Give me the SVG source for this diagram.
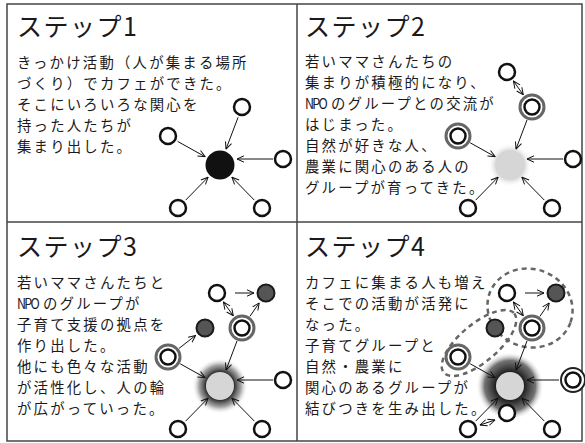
<svg xmlns="http://www.w3.org/2000/svg" width="585" height="443" viewBox="0 0 585 443">
<style>
.title{font-family:"Noto Sans CJK JP","Noto Sans",sans-serif;font-size:25px;fill:#1a1a1a;letter-spacing:1.5px}
.body{font-family:"Noto Sans CJK JP","Noto Sans",sans-serif;font-size:14.4px;letter-spacing:2.2px;fill:#1a1a1a}
.npo{letter-spacing:-2px}
.frame{fill:none;stroke:#444;stroke-width:1.5}
.w{fill:#fff;stroke:#111;stroke-width:2.5}
.dk{fill:#555;stroke:#1a1a1a;stroke-width:2}
.ring{fill:#fff;stroke:#666;stroke-width:3}
.ringb{fill:#fff;stroke:#222;stroke-width:2}
.ln{stroke:#111;stroke-width:1;fill:none;marker-end:url(#ah)}
.dbl{marker-start:url(#ah)}
.dash{fill:none;stroke:#666;stroke-width:2.5;stroke-dasharray:5 4}
</style>
<defs>
<marker id="ah" viewBox="0 0 8 8" refX="7.5" refY="4" markerWidth="8" markerHeight="8" markerUnits="userSpaceOnUse" orient="auto-start-reverse">
<path d="M0.5,0.8 L7.5,4 L0.5,7.2" fill="none" stroke="#111" stroke-width="1"/>
</marker>
<radialGradient id="sh2"><stop offset="0.6" stop-color="#bbb" stop-opacity="0.8"/><stop offset="1" stop-color="#fff" stop-opacity="0"/></radialGradient>
<radialGradient id="sh3"><stop offset="0.5" stop-color="#2a2a2a"/><stop offset="0.75" stop-color="#666" stop-opacity="0.6"/><stop offset="1" stop-color="#fff" stop-opacity="0"/></radialGradient>
<radialGradient id="sh4"><stop offset="0.4" stop-color="#1a1a1a"/><stop offset="0.75" stop-color="#444" stop-opacity="0.75"/><stop offset="1" stop-color="#fff" stop-opacity="0"/></radialGradient>
</defs>
<rect width="585" height="443" fill="#fff"/>
<g id="frame">
<rect class="frame" x="7" y="4" width="575" height="437"/>
<line class="frame" x1="297" y1="4" x2="297" y2="441"/>
<line class="frame" x1="7" y1="222" x2="582" y2="222"/>
</g>
<g id="texts">
<text class="title" x="17" y="36">ステップ1</text>
<text class="body" x="17" y="68"><tspan x="17" y="68">きっかけ活動（人が集まる場所</tspan><tspan x="17" y="89">づくり）でカフェができた。</tspan><tspan x="17" y="110">そこにいろいろな関心を</tspan><tspan x="17" y="131">持った人たちが</tspan><tspan x="17" y="152">集まり出した。</tspan></text>

<text class="title" x="305" y="36">ステップ2</text>
<text class="body" x="305" y="67"><tspan x="305" y="67">若いママさんたちの</tspan><tspan x="305" y="88">集まりが積極的になり、</tspan><tspan class="npo" x="305" y="109" textLength="21" lengthAdjust="spacingAndGlyphs">NPO</tspan><tspan x="331" y="109">のグループとの交流が</tspan><tspan x="305" y="130">はじまった。</tspan><tspan x="305" y="151">自然が好きな人、</tspan><tspan x="305" y="172">農業に関心のある人の</tspan><tspan x="305" y="193">グループが育ってきた。</tspan></text>

<text class="title" x="17" y="256">ステップ3</text>
<text class="body" x="17" y="288"><tspan x="17" y="288">若いママさんたちと</tspan><tspan class="npo" x="17" y="309" textLength="21" lengthAdjust="spacingAndGlyphs">NPO</tspan><tspan x="43" y="309">のグループが</tspan><tspan x="17" y="330">子育て支援の拠点を</tspan><tspan x="17" y="351">作り出した。</tspan><tspan x="17" y="372">他にも色々な活動</tspan><tspan x="17" y="393">が活性化し、人の輪</tspan><tspan x="17" y="414">が広がっていった。</tspan></text>

<text class="title" x="305" y="256">ステップ4</text>
<text class="body" x="305" y="288"><tspan x="305" y="288">カフェに集まる人も増え</tspan><tspan x="305" y="309">そこでの活動が活発に</tspan><tspan x="305" y="330">なった。</tspan><tspan x="305" y="351">子育てグループと</tspan><tspan x="305" y="372">自然・農業に</tspan><tspan x="305" y="393">関心のあるグループが</tspan><tspan x="305" y="414">結びつきを生み出した。</tspan></text>
</g>

<g id="groups4" transform="translate(510,386)">
<ellipse class="dash" cx="20" cy="-78" rx="43" ry="39" transform="rotate(20 20 -78)"/>
<ellipse class="dash" cx="-31" cy="-43" rx="46" ry="19" transform="rotate(-40 -31 -43)"/>
</g>

<g id="halos">
<circle cx="510" cy="165" r="22" fill="url(#sh2)"/>
<circle cx="220" cy="386" r="28" fill="url(#sh3)"/>
<circle cx="510" cy="386" r="34" fill="url(#sh4)"/>
</g>

<g id="connectors">
<g transform="translate(220,165)">
<line class="ln" x1="18.1" y1="-47.7" x2="6" y2="-15.9"/>
<line class="ln" x1="-42.4" y1="-23.6" x2="-14.9" y2="-8.3"/>
<line class="ln" x1="53" y1="-6" x2="17" y2="-6"/>
<line class="ln" x1="-34.3" y1="35.1" x2="-11.9" y2="12.2"/>
<line class="ln" x1="34.3" y1="35.1" x2="11.9" y2="12.2"/>
</g>
<g transform="translate(510,165)">
<line class="ln dbl" x1="3.4" y1="-84" x2="13.3" y2="-70.2"/>
<line class="ln" x1="17" y1="-45" x2="6" y2="-15.9"/>
<line class="ln" x1="-39.8" y1="-22.2" x2="-14.9" y2="-8.3"/>
<line class="ln" x1="53" y1="-6" x2="17" y2="-6"/>
<line class="ln" x1="-34.3" y1="35.1" x2="-11.9" y2="12.2"/>
<line class="ln" x1="34.3" y1="35.1" x2="11.9" y2="12.2"/>
</g>
<g transform="translate(220,386)">
<line class="ln" x1="15" y1="-93" x2="34" y2="-93"/>
<line class="ln dbl" x1="3.4" y1="-84" x2="13.3" y2="-70.2"/>
<line class="ln" x1="29.9" y1="-69.6" x2="39.2" y2="-83.1"/>
<line class="ln" x1="-41" y1="-37.6" x2="-24.4" y2="-50.6"/>
<line class="ln" x1="17" y1="-45" x2="6" y2="-15.9"/>
<line class="ln" x1="-39.8" y1="-22.2" x2="-14.9" y2="-8.3"/>
<line class="ln" x1="53" y1="-6" x2="17" y2="-6"/>
<line class="ln" x1="-34.3" y1="35.1" x2="-11.9" y2="12.2"/>
<line class="ln" x1="34.3" y1="35.1" x2="11.9" y2="12.2"/>
</g>
<g transform="translate(510,386)">
<line class="ln" x1="15" y1="-93" x2="34" y2="-93"/>
<line class="ln dbl" x1="3.4" y1="-84" x2="13.3" y2="-70.2"/>
<line class="ln" x1="29.9" y1="-69.6" x2="39.2" y2="-83.1"/>
<line class="ln" x1="17" y1="-45" x2="6" y2="-15.9"/>
<line class="ln" x1="-39.8" y1="-22.2" x2="-14.9" y2="-8.3"/>
<line class="ln" x1="49" y1="-6" x2="17" y2="-6"/>
<line class="ln" x1="-34.3" y1="35.1" x2="-11.9" y2="12.2"/>
<line class="ln" x1="34.3" y1="35.1" x2="11.9" y2="12.2"/>
<line class="ln dbl" x1="-30" y1="39" x2="-15" y2="34"/>
</g>
</g>

<g id="step1-nodes" transform="translate(220,165)">
<g id="s1-center"><circle cx="0" cy="0" r="14.5" fill="#111"/></g>
<g id="s1-top"><circle class="w" cx="22" cy="-58" r="8"/></g>
<g id="s1-left"><circle class="w" cx="-52" cy="-29" r="8"/></g>
<g id="s1-right"><circle class="w" cx="63" cy="-6" r="8"/></g>
<g id="s1-bl"><circle class="w" cx="-42" cy="43" r="8"/></g>
<g id="s1-br"><circle class="w" cx="42" cy="43" r="8"/></g>
</g>

<g id="step2-nodes" transform="translate(510,165)">
<g id="s2-center"><circle cx="0" cy="0" r="14" fill="#d6d6d6"/></g>
<g id="s2-tt"><circle class="w" cx="-3" cy="-93" r="8"/></g>
<g id="s2-top"><circle class="ring" cx="22" cy="-58" r="12"/><circle class="w" cx="22" cy="-58" r="7.5"/></g>
<g id="s2-left"><circle class="ring" cx="-52" cy="-29" r="12"/><circle class="w" cx="-52" cy="-29" r="7.5"/></g>
<g id="s2-right"><circle class="w" cx="63" cy="-6" r="8"/></g>
<g id="s2-bl"><circle class="w" cx="-42" cy="43" r="8"/></g>
<g id="s2-br"><circle class="w" cx="42" cy="43" r="8"/></g>
</g>

<g id="step3-nodes" transform="translate(220,386)">
<g id="s3-center"><circle cx="0" cy="0" r="14" fill="#d6d6d6"/></g>
<g id="s3-tt"><circle class="w" cx="-3" cy="-93" r="8"/></g>
<g id="s3-tr"><circle class="dk" cx="46" cy="-93" r="8.5"/></g>
<g id="s3-top"><circle class="ring" cx="22" cy="-58" r="12"/><circle class="w" cx="22" cy="-58" r="7.5"/></g>
<g id="s3-mid"><circle class="dk" cx="-15" cy="-58" r="8.5"/></g>
<g id="s3-left"><circle class="ring" cx="-52" cy="-29" r="12"/><circle class="w" cx="-52" cy="-29" r="7.5"/></g>
<g id="s3-right"><circle class="w" cx="63" cy="-6" r="8"/></g>
<g id="s3-bl"><circle class="w" cx="-42" cy="43" r="8"/></g>
<g id="s3-br"><circle class="w" cx="42" cy="43" r="8"/></g>
</g>

<g id="step4-nodes" transform="translate(510,386)">
<g id="s4-center"><circle cx="0" cy="0" r="14" fill="#d6d6d6"/></g>
<g id="s4-tt"><circle class="w" cx="-3" cy="-93" r="8"/></g>
<g id="s4-tr"><circle class="dk" cx="46" cy="-93" r="8.5"/></g>
<g id="s4-top"><circle class="ring" cx="22" cy="-58" r="12"/><circle class="w" cx="22" cy="-58" r="7.5"/></g>
<g id="s4-mid"><circle class="dk" cx="-15" cy="-58" r="8.5"/></g>
<g id="s4-left"><circle class="ring" cx="-52" cy="-29" r="12"/><circle class="w" cx="-52" cy="-29" r="7.5"/></g>
<g id="s4-right"><circle class="ringb" cx="63" cy="-6" r="12"/><circle class="w" cx="63" cy="-6" r="7.5"/></g>
<g id="s4-bm"><circle class="w" cx="-3" cy="27" r="8"/></g>
<g id="s4-bl"><circle class="w" cx="-42" cy="43" r="8"/></g>
<g id="s4-br"><circle class="w" cx="42" cy="43" r="8"/></g>
</g>
</svg>
